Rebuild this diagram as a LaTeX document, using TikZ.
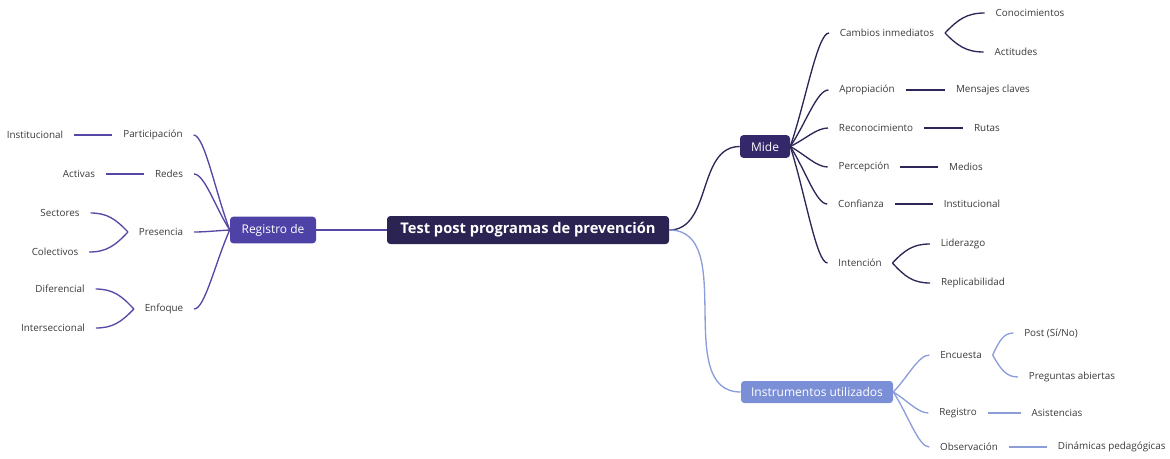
\documentclass[tikz,border=0pt]{standalone}
\usepackage{fontspec}
\setmainfont{Open Sans}
\usepackage[HTML]{xcolor}
\usetikzlibrary{positioning,calc}
\definecolor{rootc}{HTML}{2B2352}
\definecolor{midec}{HTML}{35286A}
\definecolor{regc}{HTML}{4E42A6}
\definecolor{instc}{HTML}{7B8FD6}
\definecolor{reglc}{HTML}{5448A4}
\definecolor{midelc}{HTML}{2E2656}
\definecolor{instlc}{HTML}{8C9ED9}
\definecolor{txtc}{HTML}{3A3A3A}

\begin{document}
\begin{tikzpicture}[x=0.75pt,y=-0.75pt,
  leaf/.style={text=txtc,font=\fontsize{7.4}{9}\selectfont,inner xsep=8pt,inner ysep=1pt},
  topic/.style={rounded corners=2.5pt,text=white,inner sep=0pt,font=\fontsize{9}{11}\selectfont},
  regl/.style={draw=reglc,line width=1pt},
  midel/.style={draw=midelc,line width=1pt},
  instl/.style={draw=instlc,line width=1pt},
  fan/.style={to path={.. controls ($(\tikztostart)!0.4!(\tikztotarget)$) and ($(\tikztotarget)!0.3!(\tikztotarget -| \tikztostart)$) .. (\tikztotarget)}},
  fork/.style={to path={.. controls ($(\tikztostart)!0.5!(\tikztotarget)!0.35!(\tikztostart |- \tikztotarget)$) and ($(\tikztotarget)!0.45!(\tikztotarget -| \tikztostart)$) .. (\tikztotarget)}}]
\useasboundingbox (0,0) rectangle (1170,458);
% main topics
\node[topic,fill=rootc,minimum width=211.5pt,minimum height=21pt,font=\fontsize{11}{13}\selectfont\bfseries] (root) at (528,230) {Test post programas de prevención};
\node[topic,fill=regc,minimum width=64.5pt,minimum height=20pt] (reg) at (273,230) {Registro de};
\node[topic,fill=midec,minimum width=37.5pt,minimum height=17pt] (mide) at (765,146.5) {Mide};
\node[topic,fill=instc,minimum width=114pt,minimum height=16.5pt] (inst) at (817,392) {Instrumentos utilizados};
\draw[regl] (root.west) -- (reg.east);
\draw[midel] (root.east) to[out=0,in=180] (mide.west);
\draw[instl] (root.east) to[out=0,in=180] (inst.west);
% left branch
\node[leaf] (part) at (153,135) {Participación};
\node[leaf] (inst1) at (35,135) {Institucional};
\node[leaf] (redes) at (169,174) {Redes};
\node[leaf] (activas) at (79,174) {Activas};
\node[leaf] (pres) at (161,232) {Presencia};
\node[leaf] (sect) at (60,213) {Sectores};
\node[leaf] (colec) at (55,252) {Colectivos};
\node[leaf] (enf) at (164,309) {Enfoque};
\node[leaf] (dif) at (60,289) {Diferencial};
\node[leaf] (inter) at (53,328) {Interseccional};
\foreach \n in {part,redes,pres,enf}
  \draw[regl] (reg.west) to[fan] (\n.east);
\draw[regl] (part.west) -- (inst1.east);
\draw[regl] (redes.west) -- (activas.east);
\foreach \n in {sect,colec}
  \draw[regl] (pres.west) to[fork] (\n.east);
\foreach \n in {dif,inter}
  \draw[regl] (enf.west) to[fork] (\n.east);
% upper right branch
\node[leaf] (camb) at (887,33) {Cambios inmediatos};
\node[leaf] (conoc) at (1030,13) {Conocimientos};
\node[leaf] (actit) at (1016,52) {Actitudes};
\node[leaf] (aprop) at (867,90) {Apropiación};
\node[leaf] (mens) at (993,90) {Mensajes claves};
\node[leaf] (recon) at (876,128) {Reconocimiento};
\node[leaf] (rutas) at (987,128) {Rutas};
\node[leaf] (perc) at (864,167) {Percepción};
\node[leaf] (medios) at (966,167) {Medios};
\node[leaf] (conf) at (861,204) {Confianza};
\node[leaf] (inst2) at (972,204) {Institucional};
\node[leaf] (inten) at (860,263) {Intención};
\node[leaf] (lider) at (963,244) {Liderazgo};
\node[leaf] (repl) at (973,283) {Replicabilidad};
\foreach \n in {camb,aprop,recon,perc,conf,inten}
  \draw[midel] (mide.east) to[fan] (\n.west);
\foreach \n in {conoc,actit}
  \draw[midel] (camb.east) to[fork] (\n.west);
\draw[midel] (aprop.east) -- (mens.west);
\draw[midel] (recon.east) -- (rutas.west);
\draw[midel] (perc.east) -- (medios.west);
\draw[midel] (conf.east) -- (inst2.west);
\foreach \n in {lider,repl}
  \draw[midel] (inten.east) to[fork] (\n.west);
% lower right branch
\node[leaf] (enc) at (961,355) {Encuesta};
\node[leaf] (post) at (1051,333) {Post (Sí/No)};
\node[leaf] (preg) at (1072,377) {Preguntas abiertas};
\node[leaf] (regis) at (958,413) {Registro};
\node[leaf] (asist) at (1057,413) {Asistencias};
\node[leaf] (obs) at (969,447) {Observación};
\node[leaf,anchor=west] (dinam) at (1047,447) {Dinámicas pedagógicas};
\foreach \n in {enc,regis,obs}
  \draw[instl] (inst.east) to[fan] (\n.west);
\foreach \n in {post,preg}
  \draw[instl] (enc.east) to[fork] (\n.west);
\draw[instl] (regis.east) -- (asist.west);
\draw[instl] (obs.east) -- (dinam.west);
\end{tikzpicture}
\end{document}
